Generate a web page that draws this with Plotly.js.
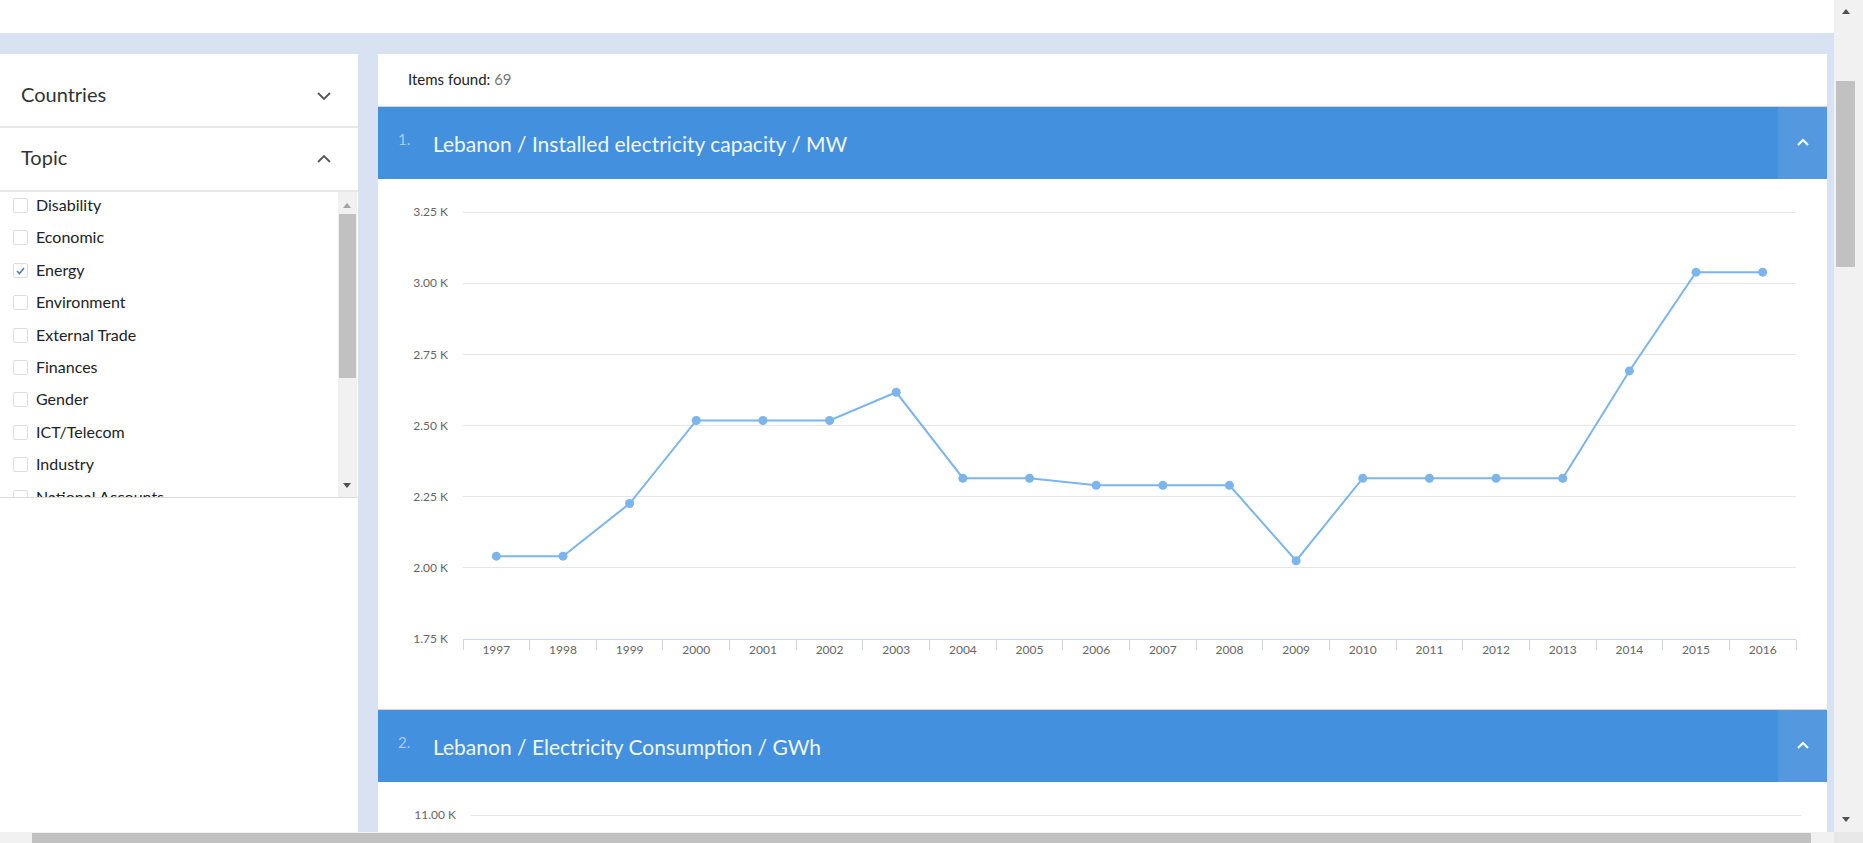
<!DOCTYPE html>
<html>
<head>
<meta charset="utf-8">
<script src="https://cdn.plot.ly/plotly-3.0.1.min.js"></script>
<style>
  html, body { margin: 0; padding: 0; width: 1863px; height: 843px; overflow: hidden; background: #fff; font-family: Lato, "Open Sans", sans-serif; }
  .abs { position: absolute; }
  #band { left: 0; top: 33px; width: 1834px; height: 21px; background: #d9e2f2; }
  #gutter { left: 358px; top: 54px; width: 20px; height: 778px; background: #d9e2f2; }
  #strip { left: 1827px; top: 54px; width: 7px; height: 778px; background: #d9e2f2; }
  #left { left: 0; top: 54px; width: 358px; height: 778px; background: #fff; overflow: hidden; }
  .acc { position: absolute; left: 0; width: 358px; font-size: 20px; color: #333; }
  .acc span { position: absolute; left: 21px; }
  .divider { position: absolute; left: 0; width: 358px; height: 2px; background: #e8e8e8; }
  .chev { position: absolute; left: 316px; }
  #list { position: absolute; left: 0; top: 138px; width: 358px; height: 305px; border-bottom: 1px solid #dcdcdc; overflow: hidden; }
  .item { position: absolute; left: 0; height: 20px; font-size: 16px; color: #222; }
  .item .box { position: absolute; left: 13px; top: 3px; width: 13px; height: 13px; border: 1px solid #dedede; border-radius: 2px; background: #fff; }
  .item .lbl { position: absolute; left: 36px; top: 0; white-space: nowrap; line-height: 20px; }
  #listbar { position: absolute; left: 338px; top: 0; width: 19px; height: 305px; background: #f1f1f1; }
  #listthumb { position: absolute; left: 1px; top: 22px; width: 17px; height: 164px; background: #c1c1c1; }
  .tri-up { position: absolute; width: 0; height: 0; border-left: 4px solid transparent; border-right: 4px solid transparent; border-bottom: 5px solid #a3a3a3; }
  .tri-down { position: absolute; width: 0; height: 0; border-left: 4px solid transparent; border-right: 4px solid transparent; border-top: 5px solid #505050; }
  #content { left: 378px; top: 54px; width: 1449px; height: 778px; background: #fff; overflow: hidden; }
  #found { position: absolute; left: 30px; top: 16px; font-size: 15px; color: #222; white-space: nowrap; }
  #found b { font-weight: normal; color: #777; }
  .head { position: absolute; left: 0; width: 1449px; height: 72px; background: #4290de; border-top: 1px solid #d6d6d6; }
  .head .num { position: absolute; left: 20px; top: 23px; font-size: 15px; color: #a9cbf1; }
  .head .ttl { position: absolute; left: 55px; top: 24px; font-size: 21px; color: #f2f7fd; white-space: nowrap; }
  .head .tog { position: absolute; right: 0; top: 0; width: 49px; height: 72px; background: #5499e0; }
  .chart { position: absolute; left: 0; width: 1449px; height: 530px; }
  #vbar { left: 1834px; top: 0; width: 29px; height: 832px; background: #f1f1f1; }
  #vthumb { position: absolute; left: 2px; top: 81px; width: 19px; height: 186px; background: #c1c1c1; }
  #hbar { left: 0; top: 832px; width: 1834px; height: 11px; background: #f1f1f1; }
  #hthumb { position: absolute; left: 32px; top: 1px; width: 1779px; height: 10px; background: #c1c1c1; }
  #corner { left: 1834px; top: 832px; width: 29px; height: 11px; background: #e8e8e8; }
</style>
</head>
<body>
<div id="band" class="abs"></div>
<div id="gutter" class="abs"></div>
<div id="strip" class="abs"></div>

<div id="left" class="abs">
  <div class="acc" style="top:28px;"><span>Countries</span></div>
  <svg class="chev" style="top:37px;" width="16" height="10"><polyline points="2,2 8,8 14,2" fill="none" stroke="#555" stroke-width="1.8"/></svg>
  <div class="divider" style="top:72px;"></div>
  <div class="acc" style="top:91px;"><span>Topic</span></div>
  <svg class="chev" style="top:100px;" width="16" height="10"><polyline points="2,8 8,2 14,8" fill="none" stroke="#555" stroke-width="1.8"/></svg>
  <div class="divider" style="top:136px;"></div>
  <div id="list"></div>
</div>

<div id="content" class="abs">
  <div id="found">Items found: <b>69</b></div>
  <div class="head" style="top:52px;">
    <span class="num">1.</span><span class="ttl">Lebanon / Installed electricity capacity / MW</span>
    <div class="tog"><svg style="position:absolute;left:18px;top:31px;" width="14" height="9"><polyline points="2,7 7,2 12,7" fill="none" stroke="#fff" stroke-width="2"/></svg></div>
  </div>
  <div id="chart1" class="chart" style="top:126px;"></div>
  <div class="head" style="top:655px;">
    <span class="num">2.</span><span class="ttl">Lebanon / Electricity Consumption / GWh</span>
    <div class="tog"><svg style="position:absolute;left:18px;top:31px;" width="14" height="9"><polyline points="2,7 7,2 12,7" fill="none" stroke="#fff" stroke-width="2"/></svg></div>
  </div>
  <div id="chart2" class="chart" style="top:728px;"></div>
</div>

<div id="vbar" class="abs">
  <div class="tri-up" style="left:8px;top:9px;border-bottom-color:#505050;"></div>
  <div id="vthumb"></div>
  <div class="tri-down" style="left:8px;top:817px;"></div>
</div>
<div id="hbar" class="abs">
  <div id="hthumb"></div>
</div>
<div id="corner" class="abs"></div>

<script>
// sidebar topics
var topics = ['Disability', 'Economic', 'Energy', 'Environment', 'External Trade', 'Finances', 'Gender', 'ICT/Telecom', 'Industry', 'National Accounts'];
var checkedTopic = 'Energy';

// chart 1: installed electricity capacity (MW)
var years = ['1997','1998','1999','2000','2001','2002','2003','2004','2005','2006',
             '2007','2008','2009','2010','2011','2012','2013','2014','2015','2016'];
var capacity = [2041, 2041, 2226, 2518, 2518, 2518, 2617, 2315, 2315, 2290,
                2290, 2290, 2025, 2315, 2315, 2315, 2315, 2692, 3039, 3039];
var capTicks = [1750, 2000, 2250, 2500, 2750, 3000, 3250];

// chart 2: electricity consumption (GWh), only top of the axis visible
var consTicks = [8000, 9000, 10000, 11000];

var list = document.getElementById('list');
topics.forEach(function (t, i) {
  var d = document.createElement('div');
  d.className = 'item';
  d.style.top = (3 + i * 32.4) + 'px';
  var box = '<span class="box"></span>';
  if (t === checkedTopic) {
    box = '<span class="box"><svg width="13" height="13" style="position:absolute;left:0;top:0"><polyline points="3,7 5.5,9.5 10,4" fill="none" stroke="#4a7fc1" stroke-width="1.6"/></svg></span>';
  }
  d.innerHTML = box + '<span class="lbl">' + t + '</span>';
  list.appendChild(d);
});
var bar = document.createElement('div');
bar.id = 'listbar';
bar.innerHTML = '<div class="tri-up" style="left:5px;top:11px;"></div><div id="listthumb"></div><div class="tri-down" style="left:5px;top:291px;"></div>';
list.appendChild(bar);

function kLabels(vals) {
  return vals.map(function (v) { return (v / 1000).toFixed(2) + ' K'; });
}

var tickFont = {family: 'Lato, sans-serif', size: 12, color: '#666666'};

var trace1 = {
  x: years,
  y: capacity,
  mode: 'lines+markers',
  line: {color: '#7cb5ec', width: 2},
  marker: {color: '#7cb5ec', size: 9},
  hoverinfo: 'none'
};

var layout1 = {
  width: 1449,
  height: 530,
  margin: {l: 85, r: 31, t: 31, b: 71},
  paper_bgcolor: '#ffffff',
  plot_bgcolor: '#ffffff',
  showlegend: false,
  font: tickFont,
  xaxis: {
    type: 'category',
    range: [-0.5, 19.5],
    tickson: 'boundaries',
    ticks: 'outside',
    ticklen: 10,
    tickcolor: '#ccd6eb',
    showline: true,
    linecolor: '#ccd6eb',
    showgrid: false,
    tickfont: tickFont,
    fixedrange: true
  },
  yaxis: {
    range: [1750, 3254],
    tickvals: capTicks,
    ticktext: kLabels(capTicks),
    gridcolor: '#e6e6e6',
    zeroline: false,
    ticks: '',
    ticklabelstandoff: 14,
    tickfont: tickFont,
    fixedrange: true
  }
};

Plotly.newPlot('chart1', [trace1], layout1, {displayModeBar: false, staticPlot: true});

var trace2 = {x: [], y: [], mode: 'lines+markers', line: {color: '#7cb5ec', width: 2}};

var layout2 = {
  width: 1449,
  height: 530,
  margin: {l: 93, r: 26, t: 31, b: 71},
  paper_bgcolor: '#ffffff',
  plot_bgcolor: '#ffffff',
  showlegend: false,
  font: tickFont,
  xaxis: {visible: false, range: [0, 1]},
  yaxis: {
    range: [8000, 11015],
    tickvals: consTicks,
    ticktext: kLabels(consTicks),
    gridcolor: '#e6e6e6',
    zeroline: false,
    ticks: '',
    ticklabelstandoff: 14,
    tickfont: tickFont
  }
};

Plotly.newPlot('chart2', [trace2], layout2, {displayModeBar: false, staticPlot: true});
</script>
</body>
</html>
